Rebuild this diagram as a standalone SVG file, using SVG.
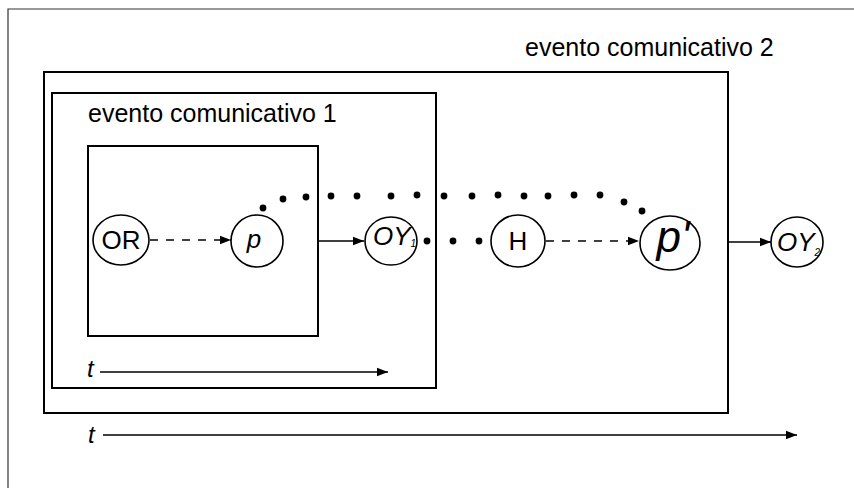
<svg xmlns="http://www.w3.org/2000/svg" width="854" height="488" viewBox="0 0 854 488">
<style>
.frame{fill:none;stroke:#333;stroke-width:1.2}
.box{fill:none;stroke:#000;stroke-width:2}
.node{fill:#fff;stroke:#000;stroke-width:1.6}
.lbl{font-family:"Liberation Sans",Arial,sans-serif;fill:#000}
.title{font-family:"Liberation Sans",Arial,sans-serif;font-size:25px;fill:#000}
.c{stroke:#000;stroke-width:1.6;fill:none}
.dash{stroke-dasharray:8 8}
.dot{fill:#000}
</style>
<defs>
<marker id="ah" markerUnits="userSpaceOnUse" markerWidth="12" markerHeight="10" refX="11" refY="5" orient="auto">
<path d="M0,0.8 L11,5 L0,9.2 Z" fill="#000"/>
</marker>
</defs>
<rect width="854" height="488" fill="#fff"/>
<path class="frame" d="M8,488 V9 H854"/>
<g id="event2">
<rect class="box" x="44" y="72" width="684" height="341"/>
<text class="title" x="525" y="56">evento comunicativo 2</text>
</g>
<g id="event1">
<rect class="box" x="52" y="93" width="384" height="295"/>
<text class="title" x="88" y="122">evento comunicativo 1</text>
</g>
<g id="inner">
<rect class="box" x="88" y="146" width="230" height="190"/>
</g>
<g id="connectors">
<line class="c dash" x1="150" y1="240" x2="231" y2="240" marker-end="url(#ah)"/>
<line class="c" x1="319" y1="241" x2="364" y2="241" marker-end="url(#ah)"/>
<line class="c dash" x1="546" y1="241" x2="639" y2="241" marker-end="url(#ah)"/>
<line class="c" x1="729" y1="242" x2="771" y2="242" marker-end="url(#ah)"/>
<line class="c" x1="100" y1="372" x2="388" y2="372" marker-end="url(#ah)"/>
<line class="c" x1="103" y1="435" x2="797" y2="435" marker-end="url(#ah)"/>
<g class="dot">
<circle cx="263" cy="208" r="3.4"/>
<circle cx="283" cy="199" r="3.4"/>
<circle cx="306" cy="197" r="3.4"/>
<circle cx="331" cy="196" r="3.4"/>
<circle cx="357" cy="196" r="3.4"/>
<circle cx="391" cy="196" r="3.4"/>
<circle cx="417" cy="195" r="3.4"/>
<circle cx="444" cy="196" r="3.4"/>
<circle cx="472" cy="196" r="3.4"/>
<circle cx="498" cy="195" r="3.4"/>
<circle cx="524" cy="196" r="3.4"/>
<circle cx="548" cy="196" r="3.4"/>
<circle cx="574" cy="195" r="3.4"/>
<circle cx="600" cy="195" r="3.4"/>
<circle cx="624" cy="202" r="3.4"/>
<circle cx="642" cy="211" r="3.4"/>
<circle cx="427" cy="241" r="3.4"/>
<circle cx="453" cy="241" r="3.4"/>
<circle cx="479" cy="241" r="3.4"/>
</g>
</g>
<g id="OR">
<ellipse class="node" cx="121" cy="240" rx="28" ry="25"/>
<text class="lbl" x="121" y="249" font-size="26" text-anchor="middle">OR</text>
</g>
<g id="p">
<ellipse class="node" cx="257" cy="241" rx="26" ry="26"/>
<text class="lbl" x="254" y="248" font-size="26" font-style="italic" text-anchor="middle">p</text>
</g>
<g id="OY1">
<ellipse class="node" cx="391" cy="241" rx="26" ry="24"/>
<text class="lbl" x="373" y="245" font-size="26" font-style="italic">OY<tspan font-size="10" dy="2">1</tspan></text>
</g>
<g id="H">
<ellipse class="node" cx="518" cy="241" rx="27" ry="26"/>
<text class="lbl" x="518" y="250" font-size="26" text-anchor="middle">H</text>
</g>
<g id="p2">
<ellipse class="node" cx="670" cy="243" rx="30" ry="27" stroke-width="3"/>
<text class="lbl" x="673" y="252" font-size="44" font-style="italic" text-anchor="middle">p'</text>
</g>
<g id="OY2">
<ellipse class="node" cx="797" cy="242" rx="26" ry="25"/>
<text class="lbl" x="777" y="251" font-size="26" font-style="italic">OY<tspan font-size="10" dy="5">2</tspan></text>
</g>
<g id="t-labels">
<text class="lbl" x="87" y="377" font-size="24" font-style="italic">t</text>
<text class="lbl" x="88" y="443" font-size="24" font-style="italic">t</text>
</g>
</svg>
